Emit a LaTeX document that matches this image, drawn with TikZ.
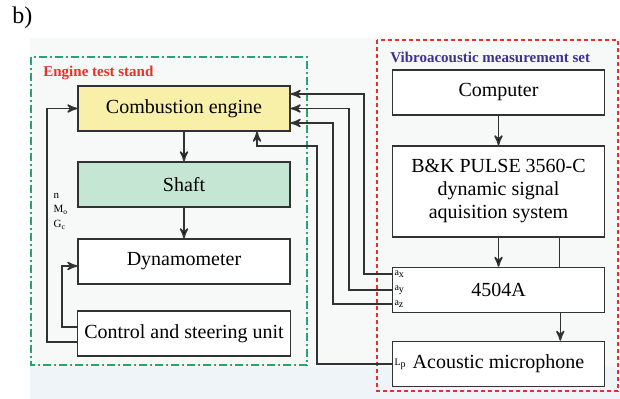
\documentclass[tikz,border=0pt]{standalone}
\usepackage{fontspec}
\setmainfont{Liberation Serif}
\usetikzlibrary{arrows, positioning}

\definecolor{engineyellow}{RGB}{248,240,168}
\definecolor{shaftgreen}{RGB}{198,230,212}
\definecolor{standgreen}{RGB}{40,165,110}
\definecolor{setred}{RGB}{232,48,40}
\definecolor{setblue}{RGB}{60,50,150}
\definecolor{linegray}{RGB}{50,50,50}
\definecolor{paper}{RGB}{247,249,249}
\definecolor{paperblue}{RGB}{238,244,248}

\begin{document}
\begin{tikzpicture}[x=0.5pt,y=-0.5pt,node distance=38pt,on grid,>=stealth',
    block/.style={draw=linegray,fill=white,line width=0.8pt,minimum width=106pt,minimum height=22.5pt,
                  font=\fontsize{10}{11.5}\selectfont,align=center},
    lbl/.style={font=\fontsize{5}{6}\selectfont,inner sep=1pt},
    wire/.style={draw=linegray,line width=0.8pt},
    title/.style={anchor=west,inner sep=0pt,font=\fontsize{7.5}{9}\selectfont\bfseries}]
  \useasboundingbox (0,0) rectangle (620,399);
  \fill[paper] (30,38) rectangle (620,367);
  \fill[paperblue] (30,367) rectangle (620,399);

  % frames
  \draw[standgreen,line width=0.8pt,dash pattern=on 4pt off 1.5pt on 1pt off 1.5pt] (31,57) rectangle (307,365);
  \draw[setred,line width=0.9pt,dash pattern=on 2pt off 1.5pt] (377,40) rectangle (618,391);

  \node[anchor=west,inner sep=0pt,font=\fontsize{12}{14}\selectfont] (fig) at (12,18) {b)};
  \node[title,text=setred] (standtitle) at (43,73) {Engine test stand};
  \node[title,text=setblue] (settitle) at (390,57) {Vibroacoustic measurement set};

  % test stand
  \node[block,fill=engineyellow] (engine) at (184,108.5) {Combustion engine};
  \node[block,fill=shaftgreen] (shaft) [below=of engine] {Shaft};
  \node[block] (dyno) [below=38.5pt of shaft] {Dynamometer};
  \node[block] (control) [below=36pt of dyno] {Control and steering unit};

  % measurement set
  \node[block] (computer) at (498.5,92.5) {Computer};
  \node[block,minimum height=45.5pt] (pulse) [below=49.5pt of computer]
        {B\&K PULSE 3560-C\\dynamic signal\\aquisition system};
  \node[block] (conditioner) [below=49.25pt of pulse] {4504A};
  \node[block] (mic) [below=37pt of conditioner] {Acoustic microphone};

  \path[wire,->]
    (engine) edge (shaft)
    (shaft) edge (dyno)
    (computer) edge (pulse)
    (pulse) edge (conditioner);
  \draw[wire] ([xshift=-23pt]pulse.south east) -- ([xshift=-23pt]conditioner.north east);
  \draw[wire,->] ([xshift=-22.5pt]conditioner.south east) -- ([xshift=-22.5pt]mic.north east);

  % feedback from the control unit
  \draw[wire,->] ([yshift=-4.25pt]control.west) -- ++(-15pt,0)
     |- node[pos=0.28,anchor=west,xshift=3pt,font=\fontsize{5.5}{7.25}\selectfont,align=left,inner sep=0pt]
        {n\\M\textsubscript{o}\\G\textsubscript{c}} (engine.west);
  \draw[wire,->] ([yshift=3.25pt]control.west) -- ++(-7.5pt,0) |- ([yshift=-2.25pt]dyno.west);

  % sensors
  \draw[wire,->] ([yshift=8pt]conditioner.west) node[lbl,anchor=west] {a\textsubscript{x}}
     -- ++(-14pt,0) |- ([yshift=7.25pt]engine.east);
  \draw[wire,->] (conditioner.west) node[lbl,anchor=west] {a\textsubscript{y}}
     -- ++(-21.5pt,0) |- (engine.east);
  \draw[wire,->] ([yshift=-7pt]conditioner.west) node[lbl,anchor=west] {a\textsubscript{z}}
     -- ++(-29.5pt,0) |- ([yshift=-7.25pt]engine.east);
  \draw[wire,->] (mic.west) node[lbl,anchor=west] {L\textsubscript{p}}
     -- ++(-37.5pt,0) |- ([xshift=36.5pt,yshift=-7pt]engine.south) -- ([xshift=36.5pt]engine.south);
\end{tikzpicture}
\end{document}
